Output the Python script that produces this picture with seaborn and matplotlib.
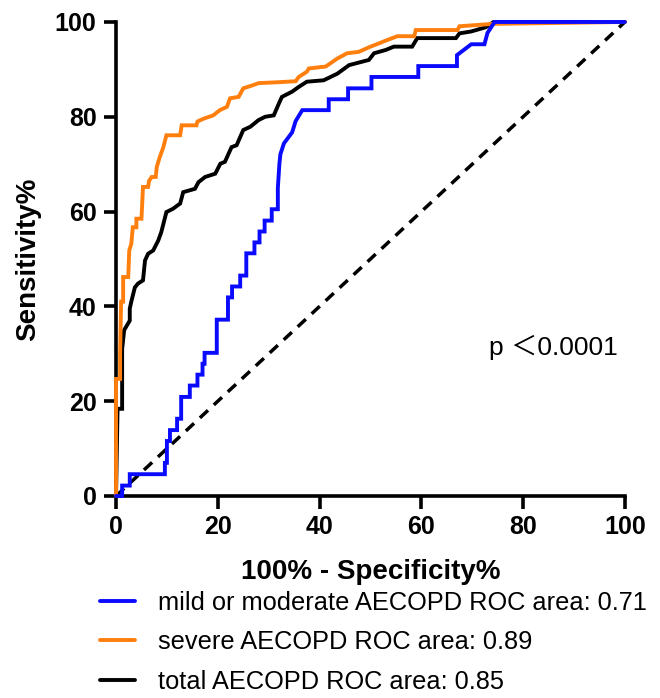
import matplotlib
matplotlib.use("Agg")
import matplotlib.pyplot as plt
import pandas as pd
import seaborn as sns

# ROC vertices (x = 100% - specificity%, y = sensitivity%)
mild_fpr = [0, 1.2, 1.2, 2.7, 2.7, 9.6, 9.6, 10.0, 10.0, 10.6, 10.6, 12.0, 12.0, 12.8,
            12.8, 14.5, 14.5, 16.0, 16.0, 17.0, 17.0, 17.4, 17.4, 19.8, 19.8, 22.0,
            22.0, 22.8, 22.8, 24.4, 24.4, 25.6, 25.6, 27.2, 27.2, 28.2, 28.2, 29.2,
            29.2, 30.6, 30.6, 31.8, 31.8, 32.1, 32.3, 33.0, 34.6, 35.3, 36.6, 41.8,
            41.8, 45.6, 45.6, 50.2, 50.2, 59.4, 59.4, 67.0, 67.0, 69.8, 72.4, 73.0,
            74.4, 100]
mild_tpr = [0, 0, 2.2, 2.2, 4.6, 4.6, 7.0, 7.0, 11.6, 11.6, 13.9, 13.9, 16.3, 16.3,
            20.9, 20.9, 23.3, 23.3, 25.6, 25.6, 27.9, 27.9, 30.2, 30.2, 37.2, 37.2,
            41.9, 41.9, 44.2, 44.2, 46.5, 46.5, 51.2, 51.2, 53.5, 53.5, 55.8, 55.8,
            58.1, 58.1, 60.5, 60.5, 65.0, 70.0, 72.1, 74.4, 76.7, 79.1, 81.4, 81.4,
            83.7, 83.7, 86.0, 86.0, 88.4, 88.4, 90.7, 90.7, 93.0, 95.3, 95.3, 97.7,
            100, 100]

severe_fpr = [0, 0, 0.8, 0.8, 1.0, 1.4, 1.4, 2.4, 2.6, 3.0, 3.3, 4.0, 4.0, 5.0, 5.3,
              6.3, 6.5, 7.0, 7.8, 8.0, 8.6, 9.3, 9.9, 12.6, 12.9, 15.8, 16.0, 17.2,
              19.1, 20.4, 21.8, 22.4, 24.1, 25.0, 27.0, 28.0, 32.0, 35.3, 35.9, 37.5,
              37.9, 41.2, 43.5, 45.4, 47.7, 50.0, 51.7, 53.3, 55.3, 58.6, 58.9, 67.1,
              67.5, 74.0, 100]
severe_tpr = [0, 24.7, 24.7, 30.0, 41.0, 41.0, 46.2, 46.2, 51.8, 53.2, 56.7, 56.7,
              58.5, 58.5, 65.2, 65.2, 66.5, 67.3, 67.3, 69.4, 71.5, 73.6, 76.1, 76.1,
              78.2, 78.2, 79.0, 79.6, 80.3, 81.4, 82.1, 83.9, 84.2, 86.0, 86.7, 87.1,
              87.3, 87.5, 88.4, 89.5, 90.2, 90.6, 92.3, 93.4, 93.7, 94.8, 95.5, 96.2,
              97.0, 97.0, 98.3, 98.3, 99.1, 99.6, 100]

total_fpr = [0, 0.3, 1.2, 1.2, 1.6, 2.7, 2.7, 3.0, 3.7, 4.3, 5.3, 5.7, 6.3, 7.3, 8.3,
             8.9, 9.9, 11.2, 12.6, 13.2, 15.5, 16.2, 17.5, 19.5, 20.5, 21.4, 22.7,
             23.7, 25.0, 26.4, 28.0, 29.3, 31.0, 32.0, 32.6, 34.6, 35.9, 37.5, 40.8,
             43.5, 45.8, 49.7, 50.7, 53.0, 54.6, 58.2, 59.2, 66.8, 67.5, 69.8, 72.7,
             74.2, 100]
total_tpr = [0, 18.4, 18.4, 31.0, 35.0, 37.0, 39.5, 41.0, 44.0, 44.8, 45.5, 49.7, 51.1,
             51.8, 53.9, 55.7, 59.9, 60.6, 61.7, 64.1, 64.8, 66.2, 67.3, 68.0, 70.1,
             70.5, 73.6, 74.0, 77.2, 77.9, 79.3, 80.0, 80.3, 82.8, 84.2, 85.3, 86.3,
             87.4, 87.7, 89.1, 90.9, 92.0, 93.4, 94.1, 94.8, 94.8, 96.6, 96.6, 97.6,
             98.0, 98.9, 100, 100]

labels = ["mild or moderate AECOPD ROC area: 0.71",
          "severe AECOPD ROC area: 0.89",
          "total AECOPD ROC area: 0.85"]
colors = ["#0a0aff", "#ff7f0e", "#000000"]
ticks = [0, 20, 40, 60, 80, 100]
p_text = "p \uff1c0.0001"

sns.set_theme(style="ticks")
plt.rcParams["font.family"] = ["Liberation Sans", "Noto Sans CJK SC", "DejaVu Sans"]
for key in ["text.color", "axes.labelcolor", "xtick.color", "ytick.color", "axes.edgecolor"]:
    plt.rcParams[key] = "black"

fig = plt.figure(figsize=(6.6, 6.98), dpi=100)
ax = fig.add_axes([0.1758, 0.2894, 0.771, 0.6791])

series = [(mild_fpr, mild_tpr), (severe_fpr, severe_tpr), (total_fpr, total_tpr)]
frames = {}
for lab, (fx, ty) in zip(labels, series):
    frames[lab] = pd.DataFrame({"fpr": fx, "tpr": ty})

# reference line
ax.plot([0, 100], [0, 100], color="black", lw=2.5, dashes=(3.2, 2.3), zorder=2)

handles = {}
for i in [2, 1, 0]:
    lab = labels[i]
    sns.lineplot(data=frames[lab], x="fpr", y="tpr", sort=False, estimator=None,
                 color=colors[i], lw=2.8, ax=ax, label=lab, zorder=3 + (2 - i))
    line = ax.lines[-1]
    line.set_clip_on(False)
    line.set_solid_joinstyle("miter")
    handles[lab] = line

ax.set_xlim(0, 100)
ax.set_ylim(0, 100)
ax.set_xticks(ticks)
ax.set_yticks(ticks)
sns.despine(ax=ax)
for s in ["left", "bottom"]:
    ax.spines[s].set_linewidth(2.6)
ax.tick_params(length=9, width=2.6, pad=5, labelsize=18)
for t in ax.get_xticklabels() + ax.get_yticklabels():
    t.set_fontweight("bold")

ax.set_xlabel("100% - Specificity%", fontsize=20, fontweight="bold", labelpad=14)
ax.set_ylabel("Sensitivity%", fontsize=20, fontweight="bold", labelpad=10)

ax.text(0.859, 0.314, p_text, transform=ax.transAxes, fontsize=19,
        ha="center", va="center")

ax.get_legend().remove()
fig.legend([handles[l] for l in labels], labels, loc="upper left",
           bbox_to_anchor=(0.152, 0.154), frameon=False, fontsize=18.3,
           handlelength=1.35, handletextpad=0.9, labelspacing=0.62, borderpad=0,
           borderaxespad=0)

fig.savefig("out.png", dpi=100)
